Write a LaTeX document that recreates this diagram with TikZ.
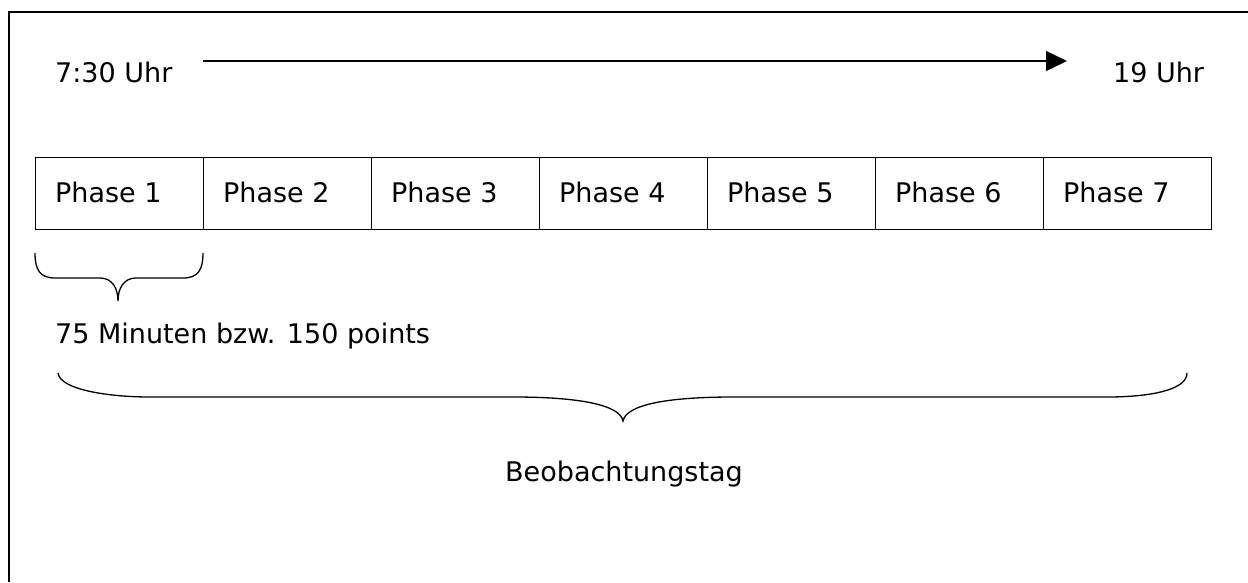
\documentclass[tikz,border=0pt]{standalone}
\usepackage{fontspec}
\setmainfont{DejaVu Sans}
\usetikzlibrary{arrows.meta}
\begin{document}
\begin{tikzpicture}[x=1pt,y=-1pt,
  txt/.style={inner sep=0pt,anchor=base west,font=\fontsize{27}{32}\selectfont},
  phasebox/.style={draw,line width=1.3pt,minimum width=168pt,minimum height=72pt,inner sep=0pt,anchor=north west},
  ln/.style={line width=1.3pt}]
\useasboundingbox (0,0) rectangle (1248,582);
% frame (only left and top visible)
\draw[ln] (9,582) -- (9,12) -- (1248,12);
% time arrow
\node[txt] (start) at (55,82) {7:30 Uhr};
\node[txt] (end) at (1113,82) {19 Uhr};
\coordinate (a0) at (203,61);
\coordinate (a1) at (1067,61);
\draw[ln,-{Triangle[length=21pt,width=20pt]}] (a0) -- (a1);
% phases
\foreach \i in {1,...,7}{
  \node[phasebox] (p\i) at ({35+168*(\i-1)},157) {};
  \node[txt] (t\i) at ({55+168*(\i-1)},202) {Phase \i};
}
% small brace
\draw[ln] (35,253) .. controls (35,270) and (40,278) .. (55,278) -- (100,278)
  .. controls (112,278) and (118,288) .. (118,301)
  .. controls (118,288) and (124,278) .. (136,278) -- (183,278)
  .. controls (198,278) and (203,270) .. (203,253);
\node[txt] (min) at (55,343) {75 Minuten bzw. 150 points};
% big brace
\draw[ln] (58,373) .. controls (60,390) and (110,397) .. (150,397) -- (513,397)
  .. controls (580,397) and (620,405) .. (623,421)
  .. controls (626,405) and (666,397) .. (733,397) -- (1107,397)
  .. controls (1150,397) and (1187,390) .. (1187,373);
\node[txt,anchor=base] (tag) at (624,481) {Beobachtungstag};
\end{tikzpicture}
\end{document}
